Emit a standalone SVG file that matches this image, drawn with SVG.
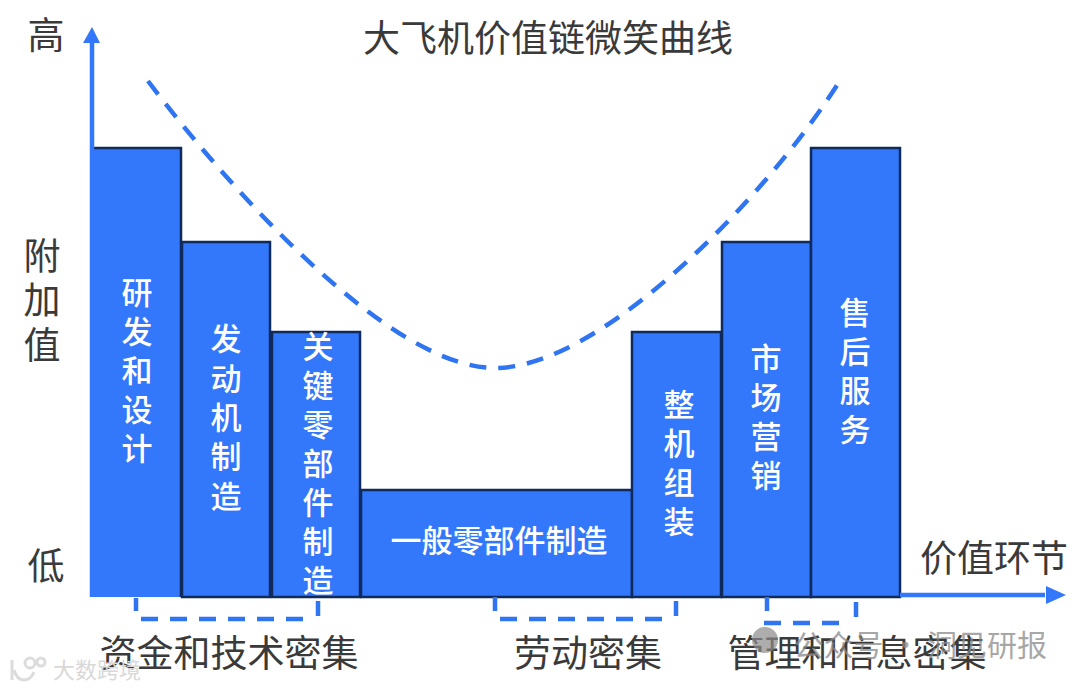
<svg xmlns="http://www.w3.org/2000/svg" width="1080" height="689" viewBox="0 0 1080 689">
<style>
text{font-family:"Noto Sans CJK SC","Noto Sans",sans-serif}
.b{fill:#3377fb;stroke:#0f2b5c;stroke-width:2.5}
.f{fill:#3377fb}
.e{fill:none;stroke:#0f2b5c;stroke-width:2.5}
.w{fill:#fff;font-size:31px;font-weight:500;text-anchor:middle}
.k{fill:#3a3a3a;font-size:37px;text-anchor:middle}
.d{fill:none;stroke:#2f74f0;stroke-width:4.5;stroke-dasharray:17 12}
.s{fill:none;stroke:#2f74f0;stroke-width:4.5}
.a{fill:none;stroke:#3377fb;stroke-width:4.5}
</style>
<rect width="1080" height="689" fill="#fff"/>
<g id="title"><text class="k" x="548" y="52">大飞机价值链微笑曲线</text></g>
<g id="axis-labels">
<text class="k" x="46" y="49">高</text>
<text class="k" x="42" y="270">附</text>
<text class="k" x="42" y="314">加</text>
<text class="k" x="42" y="359">值</text>
<text class="k" x="46" y="580">低</text>
<text class="k" x="994" y="572">价值环节</text>
</g>
<g id="n1"><rect class="f" x="90" y="148" width="91" height="449"/><path class="e" d="M92 148H181V597"/><text class="w"><tspan x="137" y="304">研</tspan><tspan x="137" y="343">发</tspan><tspan x="137" y="382">和</tspan><tspan x="137" y="421">设</tspan><tspan x="137" y="460">计</tspan></text></g>
<g id="n2"><rect class="b" x="182" y="242" width="88" height="355"/><text class="w"><tspan x="226" y="350">发</tspan><tspan x="226" y="390">动</tspan><tspan x="226" y="429">机</tspan><tspan x="226" y="468">制</tspan><tspan x="226" y="508">造</tspan></text></g>
<g id="n3"><rect class="b" x="272" y="332" width="88" height="265"/><text class="w"><tspan x="318" y="358">关</tspan><tspan x="318" y="397">键</tspan><tspan x="318" y="436">零</tspan><tspan x="318" y="475">部</tspan><tspan x="318" y="514">件</tspan><tspan x="318" y="553">制</tspan><tspan x="318" y="592">造</tspan></text></g>
<g id="n4"><rect class="b" x="361" y="490" width="271" height="107"/><text class="w" x="499" y="552">一般零部件制造</text></g>
<g id="n5"><rect class="b" x="632" y="332" width="89" height="265"/><text class="w"><tspan x="679" y="416">整</tspan><tspan x="679" y="455">机</tspan><tspan x="679" y="494">组</tspan><tspan x="679" y="533">装</tspan></text></g>
<g id="n6"><rect class="b" x="722" y="242" width="89" height="355"/><text class="w"><tspan x="766" y="370">市</tspan><tspan x="766" y="409">场</tspan><tspan x="766" y="448">营</tspan><tspan x="766" y="487">销</tspan></text></g>
<g id="n7"><rect class="b" x="811" y="148" width="89" height="449"/><text class="w"><tspan x="855" y="324">售</tspan><tspan x="855" y="363">后</tspan><tspan x="855" y="402">服</tspan><tspan x="855" y="441">务</tspan></text></g>
<g id="connectors">
<path class="a" d="M92 597V40M900 595H1045"/>
<path class="f" d="M92 27L83 43H100ZM1046 586V604L1066 595Z"/>
<path class="d" d="M148 81C230 190 390 368 495 368C600 368 765 200 841 79"/>
<path class="s" d="M136 598V611M318 601V616M495 597V611M676 601V616M767 597V611M856 602V617"/>
<path class="d" d="M141 619H312M500 619H672M764 623H850"/>
</g>
<g id="group-labels">
<text class="k" x="229" y="667">资金和技术密集</text>
<text class="k" x="588" y="667">劳动密集</text>
<text class="k" x="857" y="667">管理和信息密集</text>
</g>
<g id="watermarks">
<g fill="none" stroke="#dcdcdc" stroke-width="3"><path d="M12 660V680M14 670C18 684 30 682 34 672"/><circle cx="30" cy="663" r="5"/><circle cx="41" cy="662" r="4"/></g>
<text x="97" y="678" fill="#d8d8d8" font-size="22" text-anchor="middle">大数跨境</text>
<circle cx="765" cy="640" r="13" fill="#8a8a8a" fill-opacity="0.7"/>
<text x="1047" y="656" fill="#8a8a8a" fill-opacity="0.75" font-size="30" text-anchor="end">公众号 · 洞见研报</text>
</g>
</svg>
